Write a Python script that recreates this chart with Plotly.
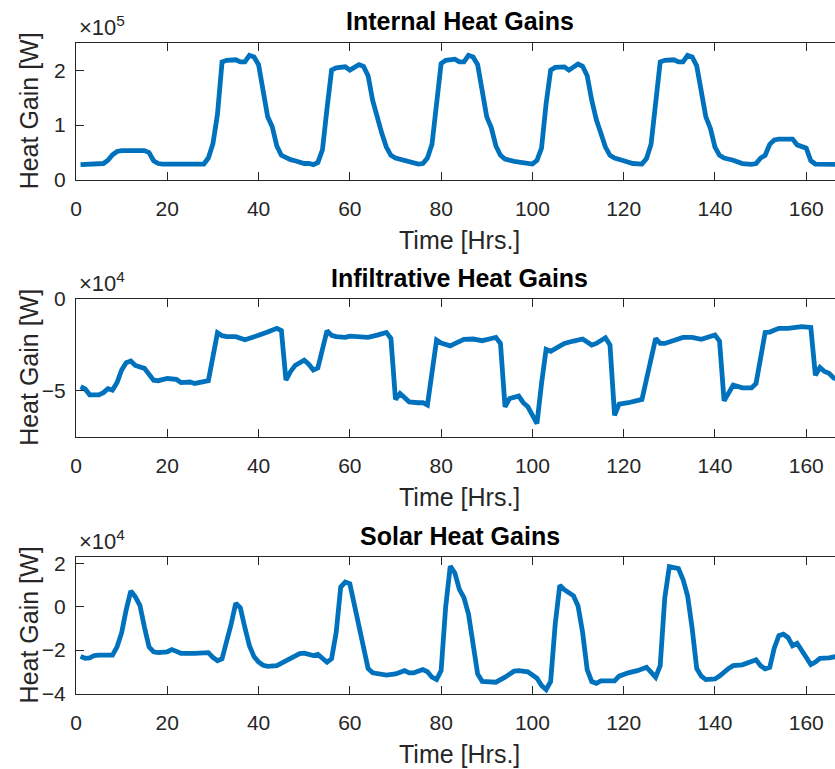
import plotly.graph_objects as go

# ---------------- data ----------------
# Internal heat gains, units of 1e5 W
internal_hours = [1, 5, 6, 7, 8, 9, 10, 15, 16, 17, 18, 19, 24, 25, 26, 27, 28, 29, 30, 31, 32, 33, 35, 36, 37, 38, 39, 40,
                  41, 42, 43, 44, 45, 46, 47, 48, 50, 51, 52, 53, 54, 55, 56, 57, 59, 60, 61, 62, 63, 64, 65, 66, 67, 68,
                  69, 70, 72, 74, 75, 76, 77, 78, 79, 80, 81, 83, 84, 85, 86, 87, 88, 89, 90, 91, 92, 93, 94, 96, 98, 99,
                  100, 101, 102, 103, 104, 105, 107, 108, 109, 110, 111, 112, 113, 114, 115, 116, 117, 118, 120, 122,
                  124, 125, 126, 127, 128, 129, 131, 132, 133, 134, 135, 136, 137, 138, 139, 140, 141, 142, 144, 146,
                  148, 149, 150, 151, 152, 153, 154, 157, 158, 159, 160, 161, 162, 167]
internal_1e5 = [0.28, 0.285, 0.30, 0.36, 0.46, 0.52, 0.535, 0.535, 0.50, 0.35, 0.30, 0.29, 0.285, 0.30, 0.30, 0.285, 0.29,
                0.40, 0.66, 1.20, 2.15, 2.18, 2.19, 2.15, 2.15, 2.27, 2.24, 2.10,
                1.65, 1.15, 0.97, 0.62, 0.45, 0.40, 0.37, 0.35, 0.30, 0.30, 0.28, 0.32, 0.55, 1.30, 2.00, 2.04, 2.06,
                2.00, 2.04, 2.10, 2.07, 1.90, 1.45, 1.12, 0.85, 0.60,
                0.45, 0.40, 0.35, 0.30, 0.29, 0.30, 0.40, 0.65, 1.30, 2.12, 2.18, 2.20, 2.15, 2.15, 2.27, 2.24, 2.10,
                1.60, 1.15, 0.95, 0.62, 0.45, 0.38, 0.34, 0.31, 0.30,
                0.29, 0.36, 0.58, 1.39, 2.00, 2.05, 2.06, 2.00, 2.05, 2.11, 2.07, 1.90, 1.45, 1.10, 0.85, 0.60, 0.45,
                0.40, 0.35, 0.30,
                0.29, 0.39, 0.65, 1.40, 2.15, 2.18, 2.19, 2.15, 2.15, 2.27, 2.24, 2.08, 1.60, 1.15, 0.94, 0.60, 0.45,
                0.40, 0.36, 0.30,
                0.285, 0.30, 0.40, 0.45, 0.65, 0.73, 0.745, 0.745, 0.64, 0.60, 0.58, 0.35, 0.29, 0.285]

# Infiltrative heat gains, units of 1e4 W
infil_hours = [1, 2, 3, 4, 5, 6, 7, 8, 9, 10, 11, 12, 13, 15, 16, 17, 18, 20, 22, 23, 25, 26, 28, 29,
               31, 32, 33, 35, 37, 38, 40, 42, 44, 45, 46, 47, 48, 50, 51, 52, 53, 55, 56, 57, 59, 60, 62, 64, 66,
               68, 69, 70, 71, 72, 73, 75, 76, 77, 79, 80, 82, 83, 85, 87, 89, 91, 92, 93, 94, 95, 97, 98, 99, 100,
               101, 102, 103, 104, 106, 107, 109, 111, 113, 114, 116, 117, 118, 119, 121, 123, 124, 127, 128, 129,
               131, 133, 135, 137, 140, 141, 142, 144, 146, 148, 149, 151, 152, 154, 156, 159, 161, 162, 163, 164,
               165, 166, 167]
infil_1e4 = [-4.78, -4.90, -5.22, -5.20, -5.22, -5.10, -4.88, -4.96, -4.55, -3.87, -3.47, -3.38, -3.62, -3.78, -4.12,
             -4.42, -4.45, -4.33, -4.38, -4.55, -4.52, -4.60, -4.50, -4.45,
             -1.84, -2.00, -2.05, -2.05, -2.22, -2.15, -1.98, -1.80, -1.60, -1.72, -4.42, -3.96, -3.62, -3.33, -3.55,
             -3.87, -3.75, -1.73, -1.98, -2.05, -2.09, -2.02, -2.05, -2.09, -1.97,
             -1.82, -2.15, -5.47, -5.15, -5.35, -5.60, -5.65, -5.65, -5.78, -2.24, -2.40, -2.55, -2.43, -2.20, -2.18,
             -2.27, -2.15, -2.09, -2.42, -5.87, -5.42, -5.29, -5.65, -5.87, -6.33,
             -6.78, -4.60, -2.75, -2.85, -2.55, -2.42, -2.29, -2.18, -2.51, -2.42, -2.11, -2.51, -6.33, -5.73, -5.65,
             -5.55, -5.47, -2.15, -2.42, -2.42,
             -2.25, -2.09, -2.09, -2.20, -1.96, -2.29, -5.55, -4.69, -4.84, -4.84, -4.60, -1.82, -1.80, -1.60, -1.60,
             -1.51, -1.55, -4.15, -3.73, -3.95,
             -4.05, -4.30, -4.40]

# Solar heat gains, units of 1e4 W
solar_hours = [1, 2, 3, 4, 5, 6, 7, 8, 9, 10, 11, 12, 13, 14, 15, 16, 17, 18, 20, 21, 22, 23, 26, 28, 29, 30, 31, 32,
               33, 34, 35, 36, 37, 38, 39, 40, 41, 42, 44, 45, 47, 49, 50, 51, 52, 53, 54, 55, 56, 57, 58, 59, 60, 61,
               62, 63, 64, 65, 66, 68, 70, 71, 72, 73, 74, 76, 77, 78, 79, 80, 81, 82, 83, 84, 85, 86, 87, 88, 89, 91,
               92, 94, 96, 97, 99, 101, 102, 103, 104, 105, 106, 107, 108, 109, 110, 111, 112, 113, 114, 115, 118,
               119, 121, 123, 125, 126, 127, 128, 129, 130, 131, 132, 133, 134, 135, 136, 137, 138, 140, 141, 143,
               144, 146, 147, 149, 150, 151, 152, 153, 154, 155, 156, 157, 158, 159, 161, 162, 163, 165, 167]
solar_1e4 = [-2.29, -2.38, -2.36, -2.25, -2.23, -2.23, -2.25, -2.23, -1.85, -1.20, -0.15, 0.72, 0.45, 0.06, -0.95, -1.85,
             -2.08, -2.12, -2.08, -1.98, -2.06, -2.15, -2.15, -2.14, -2.12, -2.34, -2.49, -2.40,
             -1.65, -0.80, 0.15, -0.05, -0.96, -1.80, -2.30, -2.55, -2.70, -2.75, -2.72, -2.62, -2.41, -2.16, -2.14,
             -2.20, -2.25, -2.20, -2.40, -2.56, -2.40, -1.20, 0.90, 1.13, 1.05, 0.10,
             -0.90, -1.90, -2.85, -3.05, -3.08, -3.15, -3.10, -3.05, -2.95, -3.05, -3.05, -2.90, -3.00, -3.25, -3.36,
             -2.95, 0.00, 1.86, 1.55, 0.79, 0.41, -0.35, -1.70, -3.10, -3.44, -3.48,
             -3.48, -3.25, -2.97, -2.95, -3.00, -3.30, -3.63, -3.82, -3.45, -0.80, 0.98, 0.78, 0.62, 0.50, 0.03, -1.19,
             -2.90, -3.45, -3.53, -3.42, -3.42,
             -3.20, -3.05, -2.95, -2.79, -3.00, -3.25, -2.72, 0.40, 1.84, 1.80, 1.75, 1.25, 0.50, -1.00, -2.85, -3.20,
             -3.36, -3.33, -3.20, -2.85,
             -2.72, -2.68, -2.60, -2.45, -2.72, -2.87, -2.80, -1.90, -1.34, -1.27, -1.42, -1.80, -1.69, -2.05, -2.67,
             -2.55, -2.38, -2.36, -2.28]

titles = ["Internal Heat Gains", "Infiltrative Heat Gains", "Solar Heat Gains"]
exponents = ["5", "4", "4"]
x_ticks = [0, 20, 40, 60, 80, 100, 120, 140, 160]
y_ticks = [[0, 1, 2], [-5, 0], [-4, -2, 0, 2]]
y_ranges = [[0, 2.5], [-7.5, 0], [-4, 2.27]]
x_range = [0, 166.3]

# ---------------- layout geometry (pixels) ----------------
W, H = 835, 769
L = 76
plot_px = [(42.7, 180.0), (299.0, 436.7), (557.3, 693.5)]


def py(px):
    return 1 - px / H


def pxx(px):
    return (px - L) / (W - L)


FONT = "Liberation Sans, Arial, Helvetica, sans-serif"
AX = "#262626"
LINE = "#0072BD"

fig = go.Figure()
series = [(internal_hours, internal_1e5), (infil_hours, infil_1e4), (solar_hours, solar_1e4)]

annotations = []
for i, (xs, ys) in enumerate(series):
    n = "" if i == 0 else str(i + 1)
    fig.add_trace(go.Scatter(x=xs, y=ys, mode="lines", line=dict(color=LINE, width=4.8),
                             xaxis="x" + n, yaxis="y" + n, showlegend=False, hoverinfo="skip"))
    top, bot = plot_px[i]
    fig.layout["xaxis" + n] = dict(
        domain=[0, 1], anchor="y" + n, range=x_range, tickvals=x_ticks,
        ticks="inside", ticklen=8, tickwidth=1.3, tickcolor=AX,
        showline=True, linecolor=AX, linewidth=1, mirror="ticks",
        showgrid=False, zeroline=False, automargin=False,
        tickfont=dict(family=FONT, size=21, color=AX), ticklabelstandoff=10,
    )
    fig.layout["yaxis" + n] = dict(
        domain=[py(bot), py(top)], anchor="x" + n, range=y_ranges[i], tickvals=y_ticks[i],
        ticks="inside", ticklen=8, tickwidth=1.3, tickcolor=AX,
        showline=True, linecolor=AX, linewidth=1, mirror=False,
        showgrid=False, zeroline=False, automargin=False,
        tickfont=dict(family=FONT, size=21, color=AX), ticklabelstandoff=5,
    )
    # title
    annotations.append(dict(text="<b>" + titles[i] + "</b>", xref="paper", yref="paper",
                            x=pxx(459.5), y=py(top - 21.5), xanchor="center", yanchor="middle",
                            showarrow=False, font=dict(family=FONT, size=25, color="#000000")))
    # x axis label
    annotations.append(dict(text="Time [Hrs.]", xref="paper", yref="paper",
                            x=pxx(459.5), y=py(bot + 60), xanchor="center", yanchor="middle",
                            showarrow=False, font=dict(family=FONT, size=25, color=AX)))
    # y axis label
    annotations.append(dict(text="Heat Gain [W]", xref="paper", yref="paper", textangle=-90,
                            x=pxx(29), y=py((top + bot) / 2), xanchor="center", yanchor="middle",
                            showarrow=False, font=dict(family=FONT, size=25, color=AX)))
    # exponent
    annotations.append(dict(text="\u00d710<sup>" + exponents[i] + "</sup>", xref="paper", yref="paper",
                            x=pxx(77), y=py(top - 1), xanchor="left", yanchor="bottom",
                            showarrow=False, font=dict(family=FONT, size=22, color=AX)))

fig.update_layout(
    width=W, height=H, autosize=False,
    margin=dict(l=L, r=0, t=0, b=0, pad=0, autoexpand=False),
    paper_bgcolor="white", plot_bgcolor="white",
    annotations=annotations,
)

fig.write_html("out.html", config={"responsive": False, "displayModeBar": False},
               post_script="document.body.style.margin='0';document.body.style.overflow='hidden';"
                           "document.documentElement.style.overflow='hidden';")
